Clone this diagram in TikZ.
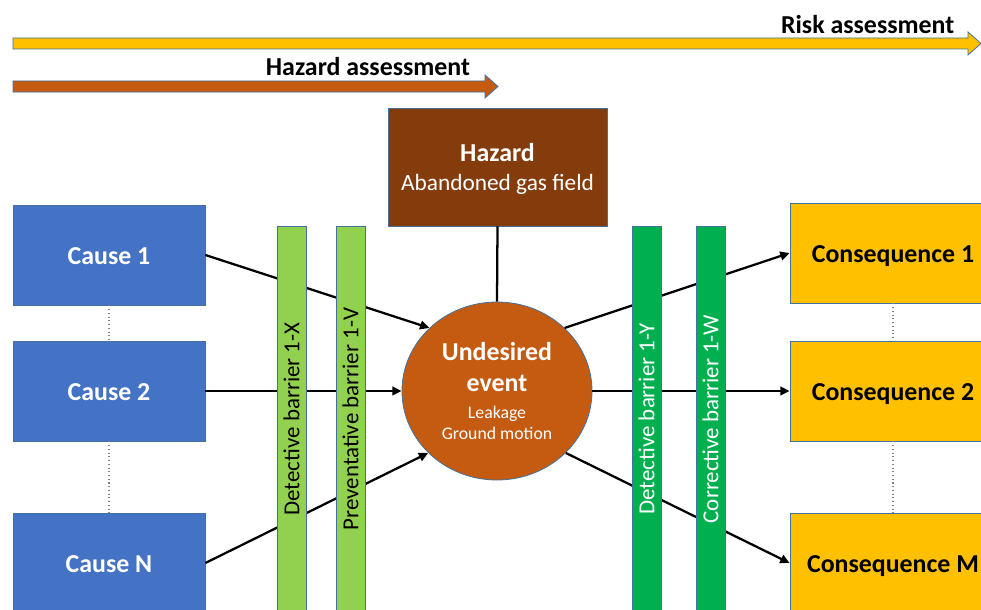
\documentclass[tikz,border=0pt]{standalone}
\usepackage{fontspec}
\setmainfont{Carlito}
\usetikzlibrary{arrows.meta,shapes.geometric}

\definecolor{edgeblue}{RGB}{65,113,156}
\definecolor{causeblue}{HTML}{4472C4}
\definecolor{hazardbrown}{HTML}{843C0C}
\definecolor{eventorange}{HTML}{C55A11}
\definecolor{lightgreen}{HTML}{92D050}
\definecolor{darkgreen}{HTML}{00B050}
\definecolor{conseqgold}{HTML}{FFC000}

% one unit of the drawing grid
\newcommand\pxu{*0.75pt}

\begin{document}
\begin{tikzpicture}[x=0.75pt,y=-0.75pt,
  bigbold/.style={font=\bfseries\fontsize{19.4}{23}\selectfont},
  box/.style={rectangle, draw=edgeblue, line width=0.6pt, inner sep=0pt,
    minimum width=192\pxu, minimum height=100\pxu, bigbold,
    text height=14pt, text depth=0pt},
  cause/.style={box, fill=causeblue, text=white},
  conseq/.style={box, fill=conseqgold, text=black, minimum width=206\pxu},
  barrier/.style={rectangle, draw=edgeblue, line width=0.6pt, inner sep=0pt,
    rotate=90, minimum width=386\pxu, minimum height=29\pxu,
    font=\fontsize{17.2}{20}\selectfont},
  link/.style={line width=1.7pt, -{Triangle[length=7pt,width=6.5pt]}},
  stem/.style={line width=1.7pt},
  chain/.style={draw=gray, dotted, line width=0.8pt},
  bandarrow/.style={draw=edgeblue, line width=0.6pt}
]
\useasboundingbox (0,0) rectangle (981,610);
\clip (0,0) rectangle (981,610);

% assessment bands
\filldraw[bandarrow, fill=conseqgold]
  (13,38) -- (968,38) -- (968,32) -- (981,43.5) -- (968,55) -- (968,49) -- (13,49) -- cycle;
\filldraw[bandarrow, fill=eventorange]
  (13,81) -- (485,81) -- (485,75) -- (498,86.5) -- (485,98) -- (485,92) -- (13,92) -- cycle;
\node[bigbold, anchor=east] (risklbl) at (959,25) {Risk assessment};
\node[bigbold] (hazlbl) at (368,67) {Hazard assessment};

% hazard and top event
\node[rectangle, draw=edgeblue, line width=0.6pt, fill=hazardbrown, text=white,
  minimum width=219\pxu, minimum height=118\pxu, inner sep=0pt, align=center,
  font=\fontsize{17.5}{22}\selectfont]
  (H) at (497.5,167)
  {\rule{0pt}{17pt}{\bfseries\fontsize{19.4}{22}\selectfont Hazard}\\
   Abandoned gas field};
\node[ellipse, draw=edgeblue, line width=0.6pt, fill=eventorange, text=white,
  minimum width=190\pxu, minimum height=178\pxu, inner sep=0pt, align=center,
  font=\fontsize{13.3}{15.75}\selectfont]
  (U) at (497,391)
  {{\bfseries\fontsize{19.4}{15.75}\selectfont Undesired}\\[7.5pt]
   {\bfseries\fontsize{19.4}{15.75}\selectfont event}\\[4.5pt]
   Leakage\\
   Ground motion};

% causes
\node[cause] (C1) at (109,255) {Cause 1};
\node[cause] (C2) at (109,391) {Cause 2};
\node[cause] (CN) at (109,563) {Cause N};

% consequences
\node[conseq] (Q1) at (893,253) {Consequence 1};
\node[conseq] (Q2) at (893,391) {Consequence 2};
\node[conseq] (QM) at (893,563) {Consequence M};

% connectors
\draw[stem] (H.south) -- (U.north);
\draw[link] (C1.east) -- (U.137.6);
\draw[link] (C2.east) -- (U.west);
\draw[link] (CN.east) -- (U.222);
\draw[link] (U.43) -- (Q1.west);
\draw[link] (U.east) -- (Q2.west);
\draw[link] (U.318.5) -- (QM.west);

\draw[chain] (C1.south) -- (C2.north);
\draw[chain] (C2.south) -- (CN.north);
\draw[chain] (Q1.south) -- (Q2.north);
\draw[chain] (Q2.south) -- (QM.north);

% barriers lie over the connectors
\node[barrier, fill=lightgreen, text=black] (B1) at (291.5,419) {Detective barrier 1-X};
\node[barrier, fill=lightgreen, text=black] (B2) at (350.5,419) {Preventative barrier 1-V};
\node[barrier, fill=darkgreen, text=white] (B3) at (646.5,419) {Detective barrier 1-Y};
\node[barrier, fill=darkgreen, text=white] (B4) at (710.5,419) {Corrective barrier 1-W};
\end{tikzpicture}
\end{document}
